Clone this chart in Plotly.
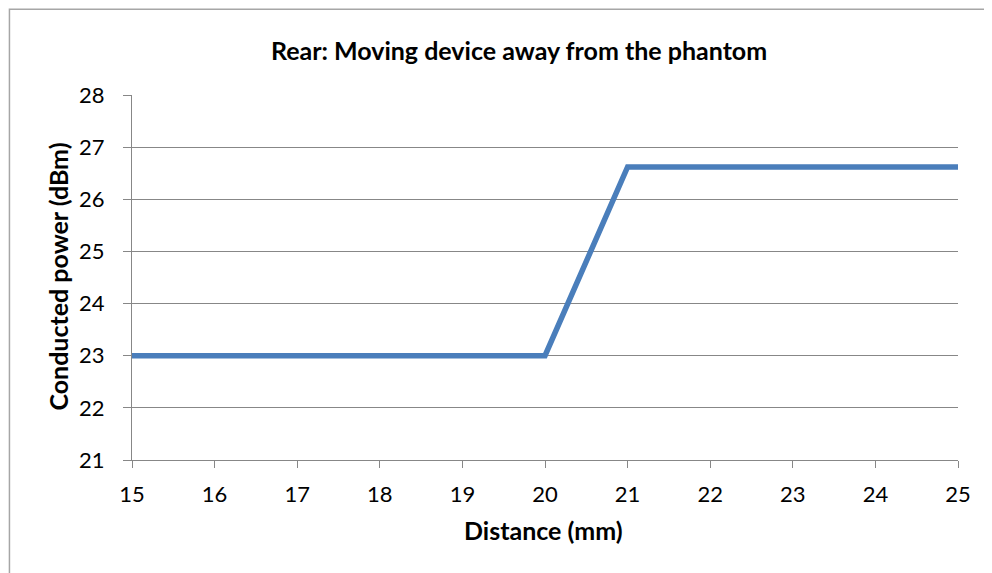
import plotly.graph_objects as go

distance_mm = [15, 16, 17, 18, 19, 20, 21, 22, 23, 24, 25]
power_dbm = [23.0, 23.0, 23.0, 23.0, 23.0, 23.0, 26.62, 26.62, 26.62, 26.62, 26.62]

title_text = "Rear: Moving device away from the phantom"
x_title = "Distance (mm)"
y_title = "Conducted power (dBm)"

# the page body adds an 8px offset; positions below are in figure pixels
W, H = 992, 573
L, R, T, B = 123.5, 41.5, 87, 121
pw, ph = W - L - R, H - T - B

def px_x(p):
    return (p - L) / pw

def px_y(p):
    return (H - B - p) / ph

fig = go.Figure()
fig.add_trace(go.Scatter(
    x=distance_mm, y=power_dbm, mode="lines",
    line=dict(color="#4A7EBB", width=5.5),
    hoverinfo="skip", showlegend=False,
))

font_family = "Lato, 'Open Sans', sans-serif"
grid_col = "#878787"
fig.update_layout(
    width=W, height=H,
    margin=dict(l=L, r=R, t=T, b=B),
    paper_bgcolor="white", plot_bgcolor="white",
    font=dict(family=font_family, color="#000000", size=22),
    title=dict(text="<b>" + title_text + "</b>", x=px_x(W / 2 + 15), xref="paper",
               xanchor="center", y=1 - 43 / H, yanchor="middle",
               font=dict(size=25)),
    xaxis=dict(
        range=[15, 25], tickmode="linear", tick0=15, dtick=1,
        showgrid=False, showline=True, linecolor=grid_col, linewidth=1.3,
        ticks="outside", ticklen=7, tickcolor=grid_col, tickwidth=1.3,
        tickfont=dict(size=22), zeroline=False, ticklabelstandoff=7,
    ),
    yaxis=dict(
        range=[21, 28], tickmode="linear", tick0=21, dtick=1,
        showgrid=True, gridcolor=grid_col, gridwidth=1.3,
        showline=True, linecolor=grid_col, linewidth=1.3,
        ticks="outside", ticklen=8, tickcolor=grid_col, tickwidth=1.3,
        tickfont=dict(size=22), zeroline=False, ticklabelstandoff=14,
    ),
    annotations=[
        dict(text="<b>" + x_title + "</b>", xref="paper", yref="paper",
             x=px_x(535), y=px_y(522), xanchor="center", yanchor="middle",
             showarrow=False, font=dict(size=25)),
        dict(text="<b>" + y_title + "</b>", xref="paper", yref="paper",
             x=px_x(49), y=px_y(269), xanchor="center", yanchor="middle",
             textangle=-90, showarrow=False, font=dict(size=25)),
    ],
    shapes=[dict(
        type="rect", xref="paper", yref="paper",
        x0=px_x(0.8), x1=px_x(1010), y0=px_y(600), y1=px_y(1.2),
        line=dict(color="#A6A6A6", width=1.5), fillcolor="rgba(0,0,0,0)",
        layer="below",
    )],
)

fig.write_html("out.html")
